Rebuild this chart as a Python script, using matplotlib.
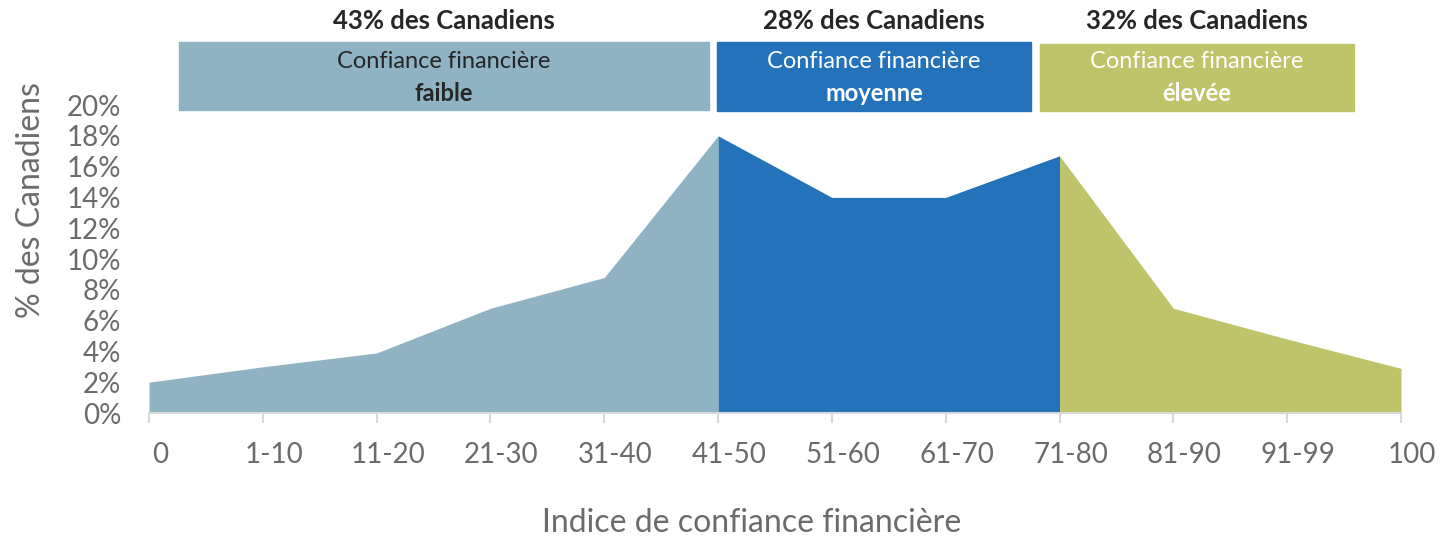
import matplotlib.pyplot as plt
from matplotlib.patches import Rectangle
from matplotlib.transforms import ScaledTranslation

plt.rcParams['font.family'] = ['Lato', 'DejaVu Sans']

# categories and share of Canadians (%)
categories = ["0", "1-10", "11-20", "21-30", "31-40", "41-50",
              "51-60", "61-70", "71-80", "81-90", "91-99", "100"]
values = [2.0, 3.0, 3.9, 6.8, 8.8, 18.0, 14.0, 14.0, 16.7, 6.8, 4.8, 2.9]

# three confidence groups: (first index, last index)
group_ranges = [(0, 5), (5, 8), (8, 11)]
group_colors = ["#8FB3C2", "#2372BA", "#BFC36A"]
group_shares = ["43% des Canadiens", "28% des Canadiens", "32% des Canadiens"]
group_levels = ["faible", "moyenne", "élevée"]
group_text_colors = ["#262626", "white", "white"]

W, H = 1441, 540
fig = plt.figure(figsize=(W / 100, H / 100), dpi=100)
ax = fig.add_axes([149 / W, 1 - 413 / H, (1401 - 149) / W, (413 - 105) / H])

x = list(range(len(categories)))
for (a, b), col in zip(group_ranges, group_colors):
    ax.fill_between(x[a:b + 1], values[a:b + 1], 0, color=col, linewidth=0)

ax.set_xlim(0, len(categories) - 1)
ax.set_ylim(0, 20)
ax.set_xticks(x)
ax.set_xticklabels(categories)
ax.set_yticks(range(0, 21, 2))
ax.set_yticklabels([f"{v}%" for v in range(0, 21, 2)])

gray = "#6B6B6B"
for s in ["top", "right", "left"]:
    ax.spines[s].set_visible(False)
ax.spines["bottom"].set_color("#D9D9D9")
ax.spines["bottom"].set_linewidth(1.5)
ax.tick_params(axis="x", length=7, width=1.5, color="#D9D9D9", pad=14,
               labelsize=20, labelcolor=gray)
ax.tick_params(axis="y", length=0, pad=20, labelsize=20, labelcolor=gray)

# Excel-style labels sit a little to the right of their ticks
shift = ScaledTranslation(11 / 100, 0, fig.dpi_scale_trans)
for lab in ax.get_xticklabels():
    lab.set_transform(lab.get_transform() + shift)

ax.set_xlabel("Indice de confiance financière", fontsize=23, color=gray)
ax.xaxis.set_label_coords((752 - 149) / 1252, -(508 - 413) / 308)
ax.set_ylabel("% des Canadiens", fontsize=23, color=gray)
ax.yaxis.set_label_coords((46 - 149) / 1252, (413 - 200) / 308)

# header boxes (figure pixels)
boxes = [(179, 709, 42, 110), (717, 1031, 42, 111), (1040, 1354, 44, 111)]
for (x0, x1, y0, y1), col, share, lvl, tc in zip(boxes, group_colors, group_shares,
                                                  group_levels, group_text_colors):
    fig.patches.append(Rectangle((x0 / W, 1 - y1 / H), (x1 - x0) / W, (y1 - y0) / H,
                                 transform=fig.transFigure, color=col, zorder=0))
    cx = (x0 + x1) / 2 / W
    fig.text(cx, 1 - 21 / H, share, ha="center", va="center", fontsize=18.5,
             fontweight="bold", color="#262626")
    fig.text(cx, 1 - 62 / H, "Confiance financière", ha="center", va="center",
             fontsize=17, color=tc)
    fig.text(cx, 1 - 93 / H, lvl, ha="center", va="center", fontsize=17,
             fontweight="bold", color=tc)

fig.savefig("out.png", dpi=100)
